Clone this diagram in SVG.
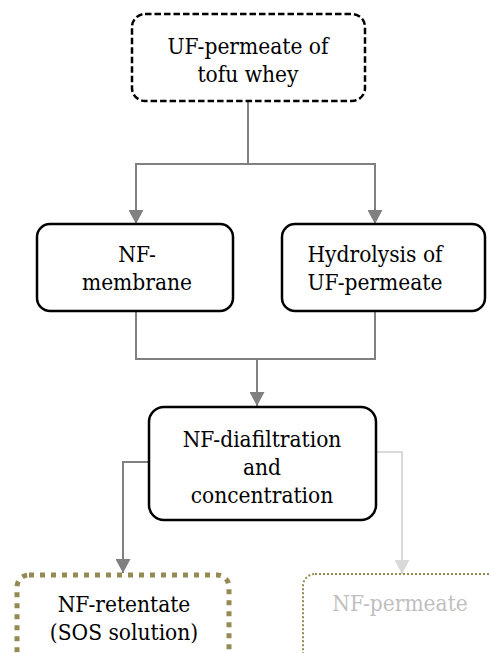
<svg xmlns="http://www.w3.org/2000/svg" width="490" height="653" viewBox="0 0 490 653">
<style>
.box{fill:#fff;stroke:#000;stroke-width:2.5}
.t{font-family:'DejaVu Serif Condensed','DejaVu Serif',serif;font-stretch:condensed;font-size:22.5px;fill:#000;text-anchor:middle}
.c{fill:none;stroke:#808080;stroke-width:2}
.cl{fill:none;stroke:#d9d9d9;stroke-width:2}
</style>
<defs>
<marker id="ah" viewBox="0 0 14 15" refX="14" refY="7.5" markerWidth="14" markerHeight="15" markerUnits="userSpaceOnUse" orient="auto"><path d="M0,0 L14,7.5 L0,15 z" fill="#808080"/></marker>
<marker id="ahl" viewBox="0 0 14 15" refX="14" refY="7.5" markerWidth="14" markerHeight="15" markerUnits="userSpaceOnUse" orient="auto"><path d="M0,0 L14,7.5 L0,15 z" fill="#d9d9d9"/></marker>
</defs>
<rect width="490" height="653" fill="#fff"/>
<g id="connectors">
<path class="c" d="M248,101 V164 H136 V224" marker-end="url(#ah)"/>
<path class="c" d="M248,164 H375 V224" marker-end="url(#ah)"/>
<path class="c" d="M136,311 V359 H375 V311"/>
<path class="c" d="M257,359 V406" marker-end="url(#ah)"/>
<path class="c" d="M149,462 H123 V573" marker-end="url(#ah)"/>
<path class="cl" d="M376,452 H402 V574" marker-end="url(#ahl)"/>
</g>
<g id="uf-permeate">
<rect x="132" y="14" width="233" height="87" rx="13" fill="#fff" stroke="#000" stroke-width="2.5" stroke-dasharray="6.5 3"/>
<text class="t" x="248" y="54">UF-permeate of</text>
<text class="t" x="248" y="82">tofu whey</text>
</g>
<g id="nf-membrane">
<rect class="box" x="37" y="224" width="196" height="87" rx="13"/>
<text class="t" x="137" y="262">NF-</text>
<text class="t" x="137" y="290">membrane</text>
</g>
<g id="hydrolysis">
<rect class="box" x="282" y="224" width="203" height="87" rx="13"/>
<text class="t" x="375" y="262">Hydrolysis of</text>
<text class="t" x="375" y="290">UF-permeate</text>
</g>
<g id="nf-diafiltration">
<rect class="box" x="149" y="407" width="227" height="113" rx="15"/>
<text class="t" x="262" y="447">NF-diafiltration</text>
<text class="t" x="262" y="475">and</text>
<text class="t" x="262" y="503">concentration</text>
</g>
<g id="nf-retentate">
<rect x="17" y="575" width="212" height="88" rx="12" fill="none" stroke="#948a54" stroke-width="5" stroke-dasharray="5 6"/>
<text class="t" x="124" y="612">NF-retentate</text>
<text class="t" x="124" y="640">(SOS solution)</text>
</g>
<g id="nf-permeate">
<rect x="303" y="574" width="200" height="90" rx="12" fill="none" stroke="#948a54" stroke-width="2" stroke-dasharray="2 2"/>
<text class="t" x="400" y="611" style="fill:#bfbfbf">NF-permeate</text>
</g>
</svg>
